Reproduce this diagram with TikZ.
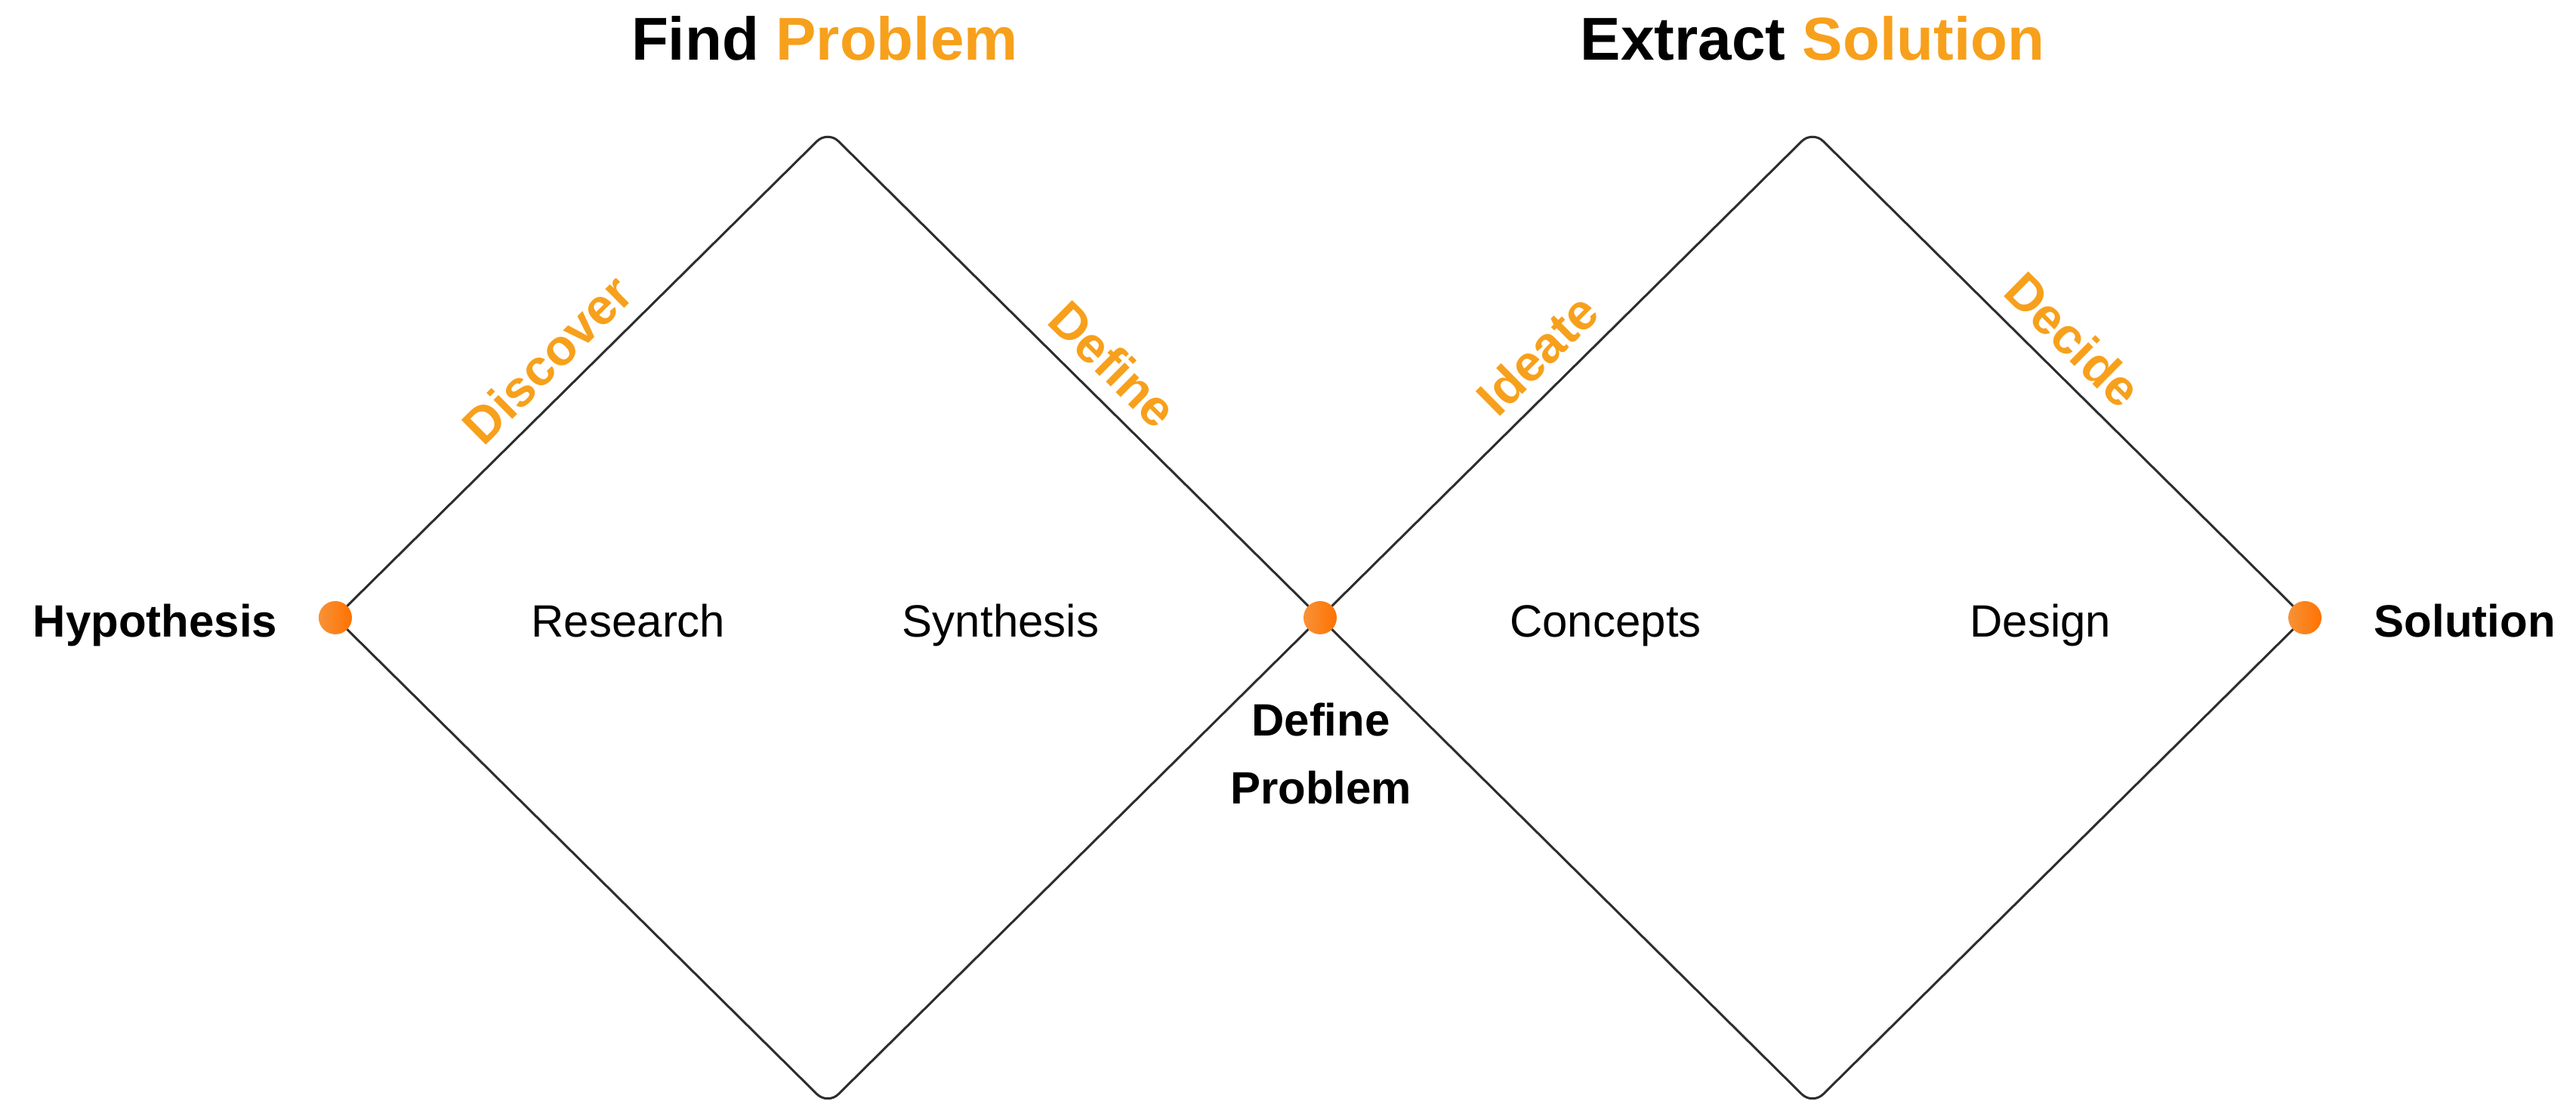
\documentclass[tikz,border=0pt]{standalone}
\usepackage{fontspec}
\setmainfont{Liberation Sans}
\usetikzlibrary{positioning}

\begin{document}
\begin{tikzpicture}[
    diamond_line/.style={draw=line_color, line width=0.030000cm, rounded corners=0.200000cm},
    dot/.style={circle, inner sep=0pt, minimum size=0.440000cm, left color=dot_light_color, right color=dot_color},
    title/.style={anchor=base, inner sep=0pt, font=\fontsize{22.8}{27}\selectfont\bfseries},
    end_label/.style={inner sep=0pt, font=\fontsize{17.07}{25.6}\selectfont\bfseries},
    phase_label/.style={anchor=base, inner sep=0pt, font=\fontsize{17.07}{25.6}\selectfont},
    edge_label/.style={sloped, above, inner sep=0.200000cm, text=accent_color, font=\fontsize{19.07}{23}\selectfont\bfseries}
]
\definecolor{line_color}{RGB}{45,45,45}
\definecolor{accent_color}{RGB}{247,160,28}
\definecolor{dot_color}{RGB}{255,114,0}
\definecolor{dot_light_color}{RGB}{247,146,56}

\useasboundingbox (0,0) rectangle (34.110000,14.580000);

% vertices of the two diamonds
\coordinate (hyp_pt) at (4.440000, 6.400000);
\coordinate (top_find) at (10.960000, 12.850000);
\coordinate (bot_find) at (10.960000, -0.050000);
\coordinate (def_pt) at (17.480000, 6.400000);
\coordinate (top_extract) at (24.000000, 12.850000);
\coordinate (bot_extract) at (24.000000, -0.050000);
\coordinate (sol_pt) at (30.520000, 6.400000);

\node[title] (find_title) at (10.920000, 13.780000) {Find \textcolor{accent_color}{Problem}};
\node[title] (extract_title) at (24.000000, 13.780000) {Extract \textcolor{accent_color}{Solution}};

\draw[diamond_line] (hyp_pt) -- node[edge_label, pos=0.48] (discover_lbl) {Discover} (top_find)
    -- node[edge_label, pos=0.53] (define_lbl) {Define} (def_pt) -- (bot_find) -- cycle;
\draw[diamond_line] (def_pt) -- node[edge_label, pos=0.49] (ideate_lbl) {Ideate} (top_extract)
    -- node[edge_label, pos=0.48] (decide_lbl) {Decide} (sol_pt) -- (bot_extract) -- cycle;

\node[dot] (hyp_dot) at (hyp_pt) {};
\node[dot] (def_dot) at (def_pt) {};
\node[dot] (sol_dot) at (sol_pt) {};

\node[end_label, anchor=base east] (hyp_lbl) at (3.680000, 6.140000) {Hypothesis};
\node[end_label, anchor=base west] (sol_lbl) at (31.430000, 6.140000) {Solution};
\node[end_label, align=center] (defprob_lbl) at (17.490000, 4.600000) {Define\\Problem};

\node[phase_label] (research_lbl) at (8.320000, 6.140000) {Research};
\node[phase_label] (synthesis_lbl) at (13.250000, 6.140000) {Synthesis};
\node[phase_label] (concepts_lbl) at (21.260000, 6.140000) {Concepts};
\node[phase_label] (design_lbl) at (27.020000, 6.140000) {Design};

\end{tikzpicture}
\end{document}
